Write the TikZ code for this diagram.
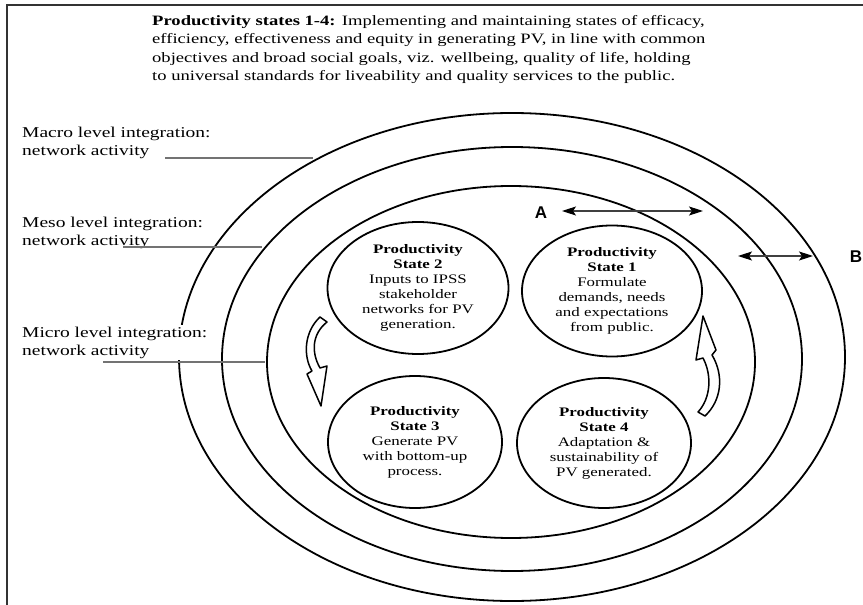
\documentclass[tikz,border=0pt]{standalone}
\usepackage{fontspec}
\setmainfont{Liberation Serif}[FakeStretch=1.3]
\newfontfamily\lettersans{Liberation Sans}
\usetikzlibrary{shapes.geometric,arrows.meta}

\tikzset{
  frameline/.style={draw=black!80, line width=1.3pt},
  titletext/.style={anchor=north west, align=left, inner sep=0pt,
    font=\fontsize{14.3}{18.5}\selectfont},
  levellabel/.style={anchor=north west, align=left, inner sep=0pt,
    font=\fontsize{15}{17.5}\selectfont},
  ring/.style={ellipse, draw, line width=1.8pt, inner sep=0pt},
  statenode/.style={ellipse, draw, line width=1.8pt, inner sep=0pt, align=center,
    font=\fontsize{13}{15}\selectfont},
  leader/.style={draw=black!55, line width=1.5pt},
  letter/.style={inner sep=0pt, font=\lettersans\bfseries\fontsize{17}{17}\selectfont},
  headtip/.tip={Stealth[length=14pt,width=9pt,inset=3pt,black]},
  twoway/.style={draw=black!75, line width=1.2pt, headtip-headtip},
  cyclearrow/.style={draw, line width=1.5pt, fill=white, line join=round}
}

\begin{document}
\begin{tikzpicture}[x=1pt,y=-1pt]
\useasboundingbox (0,0) rectangle (863,605);

% page frame
\draw[frameline] (7,605) -- (7,5) -- (863,5);

% heading
\node[titletext] (title) at (152,15) {\textbf{Productivity states 1-4:} Implementing and maintaining states of efficacy,\\
efficiency, effectiveness and equity in generating PV, in line with common\\
objectives and broad social goals, viz. wellbeing, quality of life, holding\\
to universal standards for liveability and quality services to the public.};

% integration levels
\node[ring, minimum width=666pt, minimum height=488pt] (macro) at (512,357) {};
\node[ring, minimum width=580pt, minimum height=424pt] (meso) at (512,359) {};
\node[ring, minimum width=488pt, minimum height=352pt] (micro) at (511,362) {};

% productivity states
\node[statenode, minimum width=181pt, minimum height=132pt] (s2) at (418,288)
  {\textbf{Productivity}\\\textbf{State 2}\\Inputs to IPSS\\stakeholder\\networks for PV\\generation.};
\node[statenode, minimum width=180pt, minimum height=131pt] (s1) at (612,291)
  {\textbf{Productivity}\\\textbf{State 1}\\Formulate\\demands, needs\\and expectations\\from public.};
\node[statenode, minimum width=174pt, minimum height=132pt] (s3) at (415,442)
  {\textbf{Productivity}\\\textbf{State 3}\\Generate PV\\with bottom-up\\process.};
\node[statenode, minimum width=174pt, minimum height=130pt] (s4) at (604,443)
  {\raisebox{6pt}{\begin{tabular}{@{}c@{}}\textbf{Productivity}\\\textbf{State 4}\\Adaptation \&\\sustainability of\\PV generated.\end{tabular}}};

% level labels
\node[levellabel] (lmacro) at (22,127) {Macro level integration:\\network activity};
\node[levellabel] (lmeso) at (22,217) {Meso level integration:\\network activity};
\node[levellabel, fill=white, inner ysep=2pt] (lmicro) at (22,325) {Micro level integration:\\network activity};

% leader lines from labels to rings
\coordinate (macroT) at (165,158);
\coordinate (macroE) at (313,158);
\coordinate (mesoT) at (123,247);
\coordinate (mesoE) at (262,247);
\coordinate (microT) at (103,362);
\coordinate (microE) at (265,362);
\draw[leader] (macroT) -- (macroE);
\draw[leader] (mesoT) -- (mesoE);
\draw[leader] (microT) -- (microE);

% distance markers A and B
\node[letter] (A) at (541,213) {A};
\node[letter] (B) at (856,257) {B};
\coordinate (aL) at (562,211);
\coordinate (aR) at (703,211);
\coordinate (bL) at (738,256);
\coordinate (bR) at (813,256);
\draw[twoway] (aL) -- (aR);
\draw[twoway] (bL) -- (bR);

% cycle arrows between states
\draw[cyclearrow] (321,406) -- (327,366) -- (320,368)
  .. controls (311,352) and (312,334) .. (327,322) -- (320,317)
  .. controls (304,332) and (303,356) .. (312,371) -- (307,374) -- cycle;
\draw[cyclearrow] (703,316) -- (696,360) -- (703,358)
  .. controls (712,375) and (711,398) .. (698,412) -- (705,416)
  .. controls (722,400) and (724,375) .. (712,355) -- (716,350) -- cycle;
\end{tikzpicture}
\end{document}
